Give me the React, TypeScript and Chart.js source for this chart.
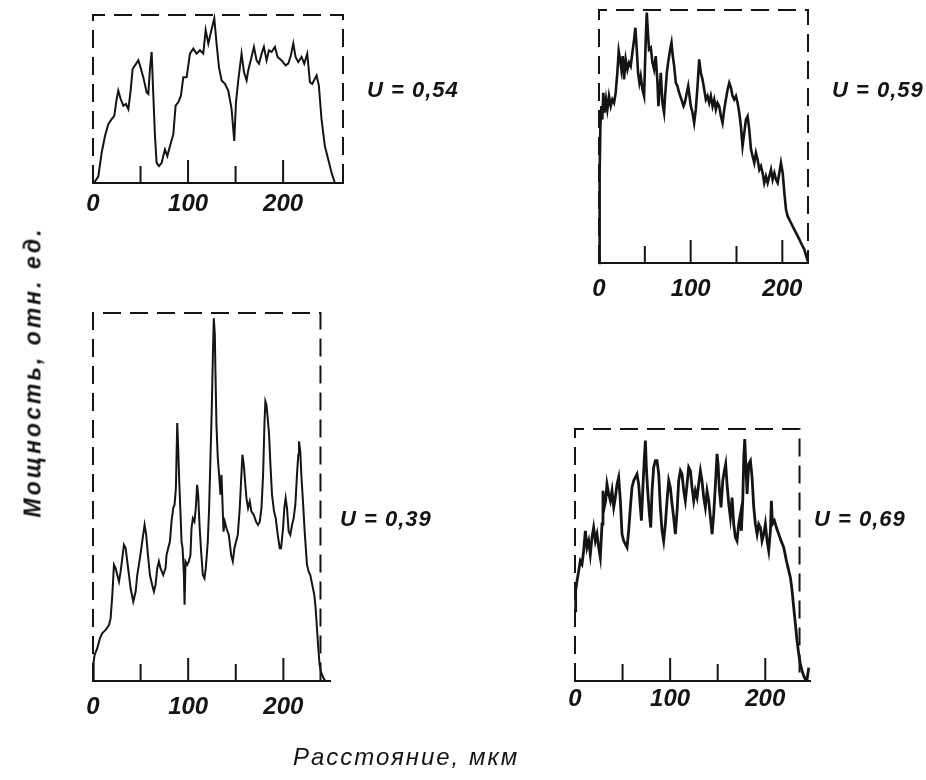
import React, { useEffect, useRef } from 'react';
import { Chart, registerables } from 'chart.js';

Chart.register(...registerables);

// ---------- DATA (distance, µm  /  relative power, box top = 100) ----------
const P1_X = [1, 5.6, 9.1, 12.6, 16.1, 19.6, 22.4, 24.9, 26.6, 29.1, 31.9, 34.7, 37.2, 39.6, 41.7, 44.2, 47.7, 49.4, 52.9, 56.4, 58.2, 59.9, 61.7, 63.4, 65.2, 66.9, 69.4, 72.2, 75.7, 78.2, 81.0, 84.5, 86.9, 89.7, 92.5, 95.0, 98.5, 102.0, 105.5, 109.0, 112.5, 116.0, 118.5, 121.3, 123.7, 127.6, 130.0, 132.5, 135.3, 138.8, 142.3, 145.8, 148.6, 150.4, 152.8, 156.3, 158.8, 161.6, 163.3, 166.8, 169.3, 172.1, 174.6, 177.4, 179.8, 182.6, 185.1, 187.9, 191.4, 194.2, 198.4, 202.6, 205.4, 208.2, 210.7, 213.1, 215.9, 219.4, 222.2, 225.4, 228.2, 230.6, 235.2, 237.6, 240.4, 243.9, 247.5, 251.0, 254.5];
const P1_Y = [0, 4, 18, 28, 35, 38, 40, 50, 55, 50, 46, 47, 44, 55, 68, 70, 73, 70, 63, 54, 53, 68, 78, 53, 28, 12, 10, 12, 20, 16, 22, 29, 46, 48, 52, 63, 63, 77, 80, 77, 79, 77, 91, 83, 89, 98, 83, 69, 61, 59, 55, 44, 25, 48, 61, 77, 66, 61, 67, 75, 81, 73, 71, 77, 81, 73, 79, 78, 81, 75, 73, 70, 71, 76, 83, 75, 72, 75, 71, 77, 60, 59, 64, 58, 38, 22, 14, 6, 0];

const P2_X = [0, 0.7, 1.5, 2.6, 3.6, 4.7, 6.2, 7.7, 9.1, 10.9, 12.8, 14.6, 16.4, 18.2, 20.0, 21.5, 23.0, 24.4, 25.9, 27.3, 29.1, 31.0, 32.8, 34.6, 36.4, 38.3, 39.7, 41.2, 42.6, 44.1, 45.5, 47.4, 49.2, 51.0, 52.1, 53.6, 54.6, 56.5, 58.3, 60.1, 61.9, 63.8, 64.8, 65.9, 67.4, 69.2, 71.0, 72.1, 74.0, 75.4, 77.6, 79.1, 80.5, 82.0, 83.8, 85.6, 87.4, 90.0, 92.2, 93.6, 95.8, 97.3, 98.7, 100.2, 102.0, 103.8, 105.6, 107.5, 109.3, 111.1, 112.9, 114.8, 116.6, 118.4, 120.2, 122.0, 123.9, 125.7, 127.5, 129.3, 131.1, 133.0, 134.8, 136.6, 138.4, 140.3, 142.1, 143.9, 145.7, 147.5, 149.4, 151.2, 153.0, 154.8, 156.6, 158.5, 160.3, 162.1, 163.9, 165.8, 167.6, 169.4, 171.2, 173.0, 174.9, 176.7, 178.5, 180.3, 182.1, 184.0, 185.8, 187.6, 189.4, 191.3, 193.1, 194.9, 196.7, 198.5, 200.4, 202.2, 204.0, 205.8, 209.5, 213.1, 216.8, 220.4, 224.0, 227.7];
const P2_Y = [0, 35.6, 54, 62, 56.7, 67.3, 59.4, 64.6, 60.7, 66, 62, 64.6, 63.3, 67.3, 75.2, 83.8, 80.5, 76.5, 81.8, 72.6, 80.5, 76.5, 79.2, 77.8, 83.1, 88.4, 93, 84.4, 75.2, 71.2, 73.9, 68.6, 66, 88.4, 99, 89.7, 84.4, 85.1, 79.2, 76.5, 81.8, 71.2, 62, 67.3, 75.2, 63.3, 59.4, 66, 75.2, 79.2, 84.4, 87.1, 81.8, 77.8, 71.2, 69.9, 67.3, 64.6, 62, 63.3, 67.3, 69.9, 66, 62, 59.4, 55.4, 60.7, 69.9, 80.5, 75.2, 72.6, 68.6, 64.6, 66, 63.3, 66, 62, 64.6, 60.7, 63.3, 62, 58, 55.4, 60.7, 64.6, 68.6, 71.2, 69.3, 66, 64.6, 66, 63.3, 59.4, 54.1, 46.2, 51.5, 56.7, 58, 52.8, 44.9, 42.2, 39.6, 43.5, 40.9, 36.9, 38.3, 35.6, 31.7, 34.3, 31.7, 34.3, 36.9, 33, 35.6, 33, 31.7, 35.6, 39.6, 35.6, 27.7, 21.1, 18.5, 15.8, 13.2, 10.6, 7.9, 5.3, 0.7];

const P3_X = [0, 0.7, 1.7, 4.5, 7.3, 9.8, 13.3, 16.8, 18.5, 20.3, 22.0, 23.8, 25.5, 27.3, 29.0, 30.8, 32.5, 34.3, 36.0, 37.8, 39.5, 42.3, 44.8, 46.5, 49.3, 51.7, 54.2, 55.9, 57.7, 59.8, 62.2, 64.0, 65.7, 67.5, 69.2, 71.0, 73.8, 76.2, 77.3, 79.0, 80.8, 82.5, 84.3, 85.7, 87.1, 87.8, 88.5, 89.5, 90.6, 92.0, 93.0, 94.1, 95.5, 96.2, 97.2, 99.0, 100.7, 102.4, 103.5, 104.9, 106.6, 108.0, 109.4, 110.5, 111.9, 113.6, 115.4, 117.1, 118.5, 120.6, 122.0, 123.4, 124.8, 125.9, 126.9, 128.0, 128.7, 129.7, 131.1, 132.5, 133.9, 135.0, 136.0, 137.1, 138.5, 140.2, 142.7, 145.1, 146.9, 148.6, 150.3, 152.1, 154.2, 155.9, 157.0, 158.4, 159.8, 161.2, 162.9, 164.7, 166.4, 168.9, 171.3, 173.4, 175.2, 177.0, 178.7, 180.1, 181.1, 182.2, 183.6, 185.0, 186.4, 188.1, 190.2, 192.0, 194.1, 196.2, 197.6, 199.7, 201.0, 202.4, 203.8, 205.6, 207.3, 209.1, 210.8, 212.6, 214.3, 215.7, 216.4, 217.8, 218.9, 220.6, 222.4, 224.8, 226.6, 228.3, 230.4, 232.5, 233.9, 235.3, 236.7, 238.1, 239.5, 240.9, 242.3, 244.1];
const P3_Y = [0, 5.3, 7.1, 8.9, 11.6, 13, 13.9, 15.2, 17, 23.4, 31.6, 30.6, 28.8, 27, 29.7, 33.4, 37, 36.1, 32.5, 28.8, 25.2, 21.6, 24.3, 28.8, 33.4, 37.9, 42.4, 39.7, 34.3, 28.8, 26.1, 24.3, 26.1, 30.6, 32.5, 30.6, 28.8, 30.6, 34.3, 36.1, 37.9, 43.3, 47, 47.9, 52.4, 61.5, 70.1, 63.3, 54.2, 45.1, 37.9, 36.1, 28.8, 20.7, 32.5, 31.6, 32.5, 34.3, 41.5, 44.2, 43.3, 47, 53.3, 50.6, 42.4, 35.2, 28.8, 27.9, 30.6, 37.9, 47, 60.6, 74.2, 87.8, 98.6, 94.1, 83.2, 69.6, 60.6, 56, 50.6, 56, 48.8, 40.6, 43.3, 41.5, 39.7, 34.3, 32.5, 36.1, 37.9, 39.7, 47, 56, 61.5, 58.8, 54.2, 49.7, 47, 48.8, 46.1, 45.1, 43.3, 42.4, 43.3, 47, 56, 69.6, 76, 75.1, 71.4, 66.9, 58.8, 50.6, 46.1, 44.2, 39.7, 36.1, 36.1, 41.5, 47, 49.7, 47, 40.6, 39.7, 42.4, 44.2, 47.9, 56, 61.5, 65.1, 62.4, 56, 48.8, 40.6, 31.6, 29.7, 28.8, 26.1, 23.4, 19.8, 14.3, 8.9, 4.4, 2.5, 1.6, 0.7, 0];

const P4_X = [0, 0.7, 2.1, 3.9, 5.6, 7.4, 9.1, 10.9, 12.6, 14.4, 16.1, 17.9, 19.6, 21.4, 23.1, 24.9, 26.6, 28.4, 29.4, 30.8, 32.2, 33.6, 35.4, 37.2, 38.9, 40.7, 42.4, 44.2, 45.9, 47.7, 49.4, 51.2, 52.9, 54.7, 56.4, 58.2, 59.9, 61.7, 63.4, 65.2, 66.9, 68.7, 69.8, 71.2, 72.9, 74.0, 75.0, 76.4, 78.2, 79.6, 81.0, 82.7, 84.5, 86.2, 88.0, 89.7, 91.5, 93.2, 95.0, 96.7, 98.5, 100.2, 102.0, 103.7, 105.5, 107.3, 109.0, 110.8, 112.5, 114.3, 116.0, 117.8, 119.5, 121.3, 123.0, 124.8, 126.5, 128.3, 130.0, 131.8, 133.5, 135.3, 137.0, 138.8, 140.6, 142.3, 144.1, 145.8, 147.6, 149.3, 150.4, 151.8, 153.5, 155.3, 157.0, 158.4, 159.8, 161.6, 163.3, 165.1, 166.8, 168.6, 170.3, 172.1, 173.9, 174.9, 176.3, 177.4, 178.4, 179.8, 180.9, 182.6, 184.4, 186.1, 187.9, 189.6, 191.4, 193.1, 194.9, 196.6, 198.4, 200.1, 201.9, 203.6, 205.4, 206.4, 207.5, 209.6, 211.7, 214.1, 216.6, 219.4, 222.2, 224.7, 226.4, 228.2, 229.9, 231.7, 233.4, 235.2, 236.9, 238.7, 240.4, 242.2, 243.9, 245.7];
const P4_Y = [27.8, 35.8, 39.7, 43.7, 47.7, 46.4, 51.7, 59.6, 53, 55.6, 50.3, 57, 60.9, 55.6, 58.3, 53, 49, 62.3, 75.5, 68.9, 71.5, 78.1, 74.2, 71.5, 75.5, 68.9, 72.8, 78.1, 80.8, 71.5, 58.3, 55.6, 54.3, 53, 59.6, 68.9, 76.8, 79.5, 80.8, 82.1, 78.1, 68.9, 63.6, 75.5, 88.7, 95.4, 84.8, 75.5, 66.2, 60.9, 75.5, 84.8, 87.4, 87.4, 82.1, 68.9, 59.6, 55.6, 62.3, 71.5, 79.5, 76.8, 70.2, 64.9, 58.3, 67.5, 79.5, 83.4, 82.1, 75.5, 71.5, 78.1, 84.8, 83.4, 76.8, 71.5, 75.5, 72.8, 78.1, 83.4, 79.5, 72.8, 68.9, 75.5, 71.5, 64.9, 58.3, 66.2, 78.1, 90.1, 86.1, 75.5, 68.9, 79.5, 83.4, 86.1, 78.1, 70.2, 64.9, 72.8, 62.3, 57, 55.6, 62.3, 66.2, 59.6, 71.5, 88.7, 96, 83.4, 74.2, 86.1, 87.4, 80.8, 68.9, 62.3, 58.3, 62.3, 60.9, 55.6, 58.3, 62.3, 55.6, 51.7, 59.6, 71.5, 62.3, 63.6, 60.9, 58.3, 55.6, 53, 47.7, 43.7, 41.1, 35.8, 29.1, 22.5, 15.9, 10.6, 6.6, 4, 2, 0.7, 0.7, 5.3];

const TICK_VALUES = [0, 50, 100, 150, 200];
const LABELED_TICKS = [0, 100, 200];
const Y_MAX = 100;

const U_LABELS = ['U = 0,54', 'U = 0,59', 'U = 0,39', 'U = 0,69'];
const Y_TITLE = 'Мощность, отн. ед.';
const X_TITLE = 'Расстояние, мкм';

// ---------- LAYOUT / STYLE ----------
const W = 926;
const H = 780;
const AXIS_H = 40;
const INK = '#141414';
const FONT = '"Liberation Sans", Arial, sans-serif';

const PANELS = [
  { xs: P1_X, ys: P1_Y, left: 93, right: 343, top: 15, bottom: 183, xMax: 263, boxRight: 263, labelPad: 7, lw: 2, label: { left: 367, top: 79 } },
  { xs: P2_X, ys: P2_Y, left: 599, right: 808, top: 10, bottom: 263, xMax: 228, boxRight: 228, labelPad: 12, lw: 2.6, label: { left: 832, top: 79 } },
  { xs: P3_X, ys: P3_Y, left: 93, right: 330, top: 313, bottom: 681, xMax: 249, boxRight: 239, labelPad: 12, lw: 2, label: { left: 340, top: 508 } },
  { xs: P4_X, ys: P4_Y, left: 575, right: 810, top: 429, bottom: 681, xMax: 247, boxRight: 236, labelPad: 4, lw: 2.8, label: { left: 814, top: 508 } },
];

const framePlugin = {
  id: 'frame',
  afterDatasetsDraw(chart: any, _args: any, opts: any) {
    const { ctx, scales } = chart;
    const xs = scales.x;
    const ys = scales.y;
    const l = xs.getPixelForValue(0);
    const r = xs.getPixelForValue(opts.boxRight);
    const t = ys.getPixelForValue(Y_MAX);
    const b = ys.getPixelForValue(0);
    ctx.save();
    ctx.strokeStyle = INK;
    ctx.lineWidth = 2;
    ctx.setLineDash([18, 9]);
    ctx.beginPath();
    ctx.moveTo(l, b);
    ctx.lineTo(l, t);
    ctx.lineTo(r, t);
    ctx.lineTo(r, b);
    ctx.stroke();
    ctx.setLineDash([]);
    ctx.lineWidth = 2;
    ctx.beginPath();
    TICK_VALUES.forEach((v) => {
      if (v === 0) return;
      const px = xs.getPixelForValue(v);
      const len = v % 100 === 0 ? 23 : 17;
      ctx.moveTo(px, b);
      ctx.lineTo(px, b - len);
    });
    ctx.stroke();
    ctx.restore();
  },
};

function Panel({ p }: { p: any }) {
  const ref = useRef<HTMLCanvasElement>(null);
  useEffect(() => {
    if (!ref.current) return;
    const points = p.xs.map((x: number, i: number) => ({ x, y: p.ys[i] }));
    const chart = new Chart(ref.current, {
      type: 'line',
      data: {
        datasets: [
          {
            data: points,
            borderColor: INK,
            borderWidth: p.lw,
            pointRadius: 0,
            tension: 0,
            fill: false,
            clip: false as any,
          },
        ],
      },
      options: {
        responsive: false,
        animation: false,
        devicePixelRatio: 1,
        layout: {
          padding: {
            left: p.left,
            right: W - p.right,
            top: p.top,
            bottom: H - p.bottom - AXIS_H,
          },
        },
        plugins: {
          legend: { display: false },
          tooltip: { enabled: false },
          frame: { boxRight: p.boxRight },
        } as any,
        scales: {
          x: {
            type: 'linear',
            min: 0,
            max: p.xMax,
            afterBuildTicks: (s: any) => {
              s.ticks = TICK_VALUES.map((v) => ({ value: v }));
            },
            afterFit: (s: any) => {
              s.height = AXIS_H;
            },
            grid: { display: false, drawTicks: false },
            border: { display: true, color: INK, width: 2 },
            ticks: {
              autoSkip: false,
              maxRotation: 0,
              padding: p.labelPad,
              color: INK,
              font: { family: FONT, size: 24, style: 'italic', weight: 'bold' },
              callback: (v: any) => (LABELED_TICKS.includes(Number(v)) ? String(v) : ''),
            },
          },
          y: {
            type: 'linear',
            min: 0,
            max: Y_MAX,
            display: false,
          },
        },
      },
      plugins: [framePlugin],
    } as any);
    return () => chart.destroy();
  }, [p]);
  return (
    <canvas
      ref={ref}
      width={W}
      height={H}
      style={{ position: 'absolute', left: 0, top: 0, width: W, height: H }}
    />
  );
}

const textStyle: React.CSSProperties = {
  position: 'absolute',
  fontFamily: FONT,
  fontStyle: 'italic',
  fontWeight: 'bold',
  color: INK,
  whiteSpace: 'nowrap',
  lineHeight: 1,
};

export default function App() {
  return (
    <div style={{ position: 'absolute', left: 0, top: 0, width: W, height: H, background: '#fff', overflow: 'hidden' }}>
      {PANELS.map((p, i) => (
        <Panel key={i} p={p} />
      ))}
      {PANELS.map((p, i) => (
        <div key={'u' + i} style={{ ...textStyle, left: p.label.left, top: p.label.top, fontSize: 22, letterSpacing: 1 }}>
          {U_LABELS[i]}
        </div>
      ))}
      <div
        style={{
          ...textStyle,
          left: 33,
          top: 372,
          fontSize: 23,
          letterSpacing: 3,
          transform: 'translate(-50%, -50%) rotate(-90deg)',
        }}
      >
        {Y_TITLE}
      </div>
      <div style={{ ...textStyle, left: 293, top: 745, fontSize: 24, letterSpacing: 2, fontWeight: 'normal' }}>{X_TITLE}</div>
    </div>
  );
}
